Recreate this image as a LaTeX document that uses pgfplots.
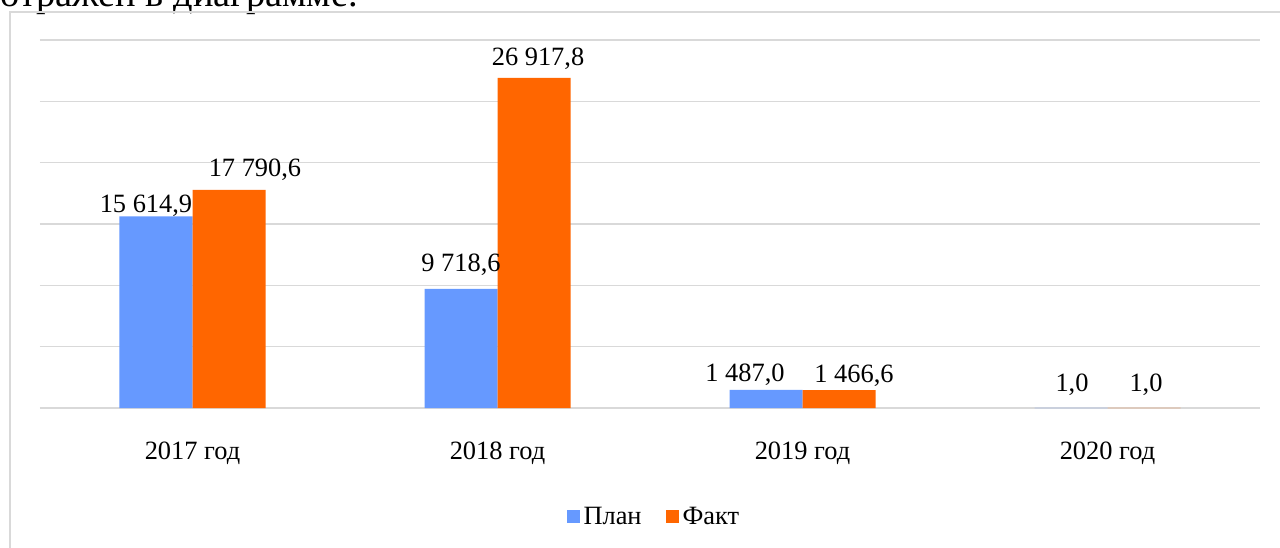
\documentclass[border=0pt]{standalone}
\usepackage{pgfplots}
\pgfplotsset{compat=1.18}
\usepackage{pgfplotstable}
\usepackage{fontspec}
\setmainfont{Liberation Serif}
\definecolor{plan}{RGB}{102,153,255}
\definecolor{fakt}{RGB}{255,102,0}
\definecolor{gridc}{RGB}{217,217,217}
\pgfplotstableread{
x plan dxp dyp fakt dxf dyf
0 15614.9 -5 2 17790.6 13 6.5
1 9718.6 0 8.5 26917.8 2 6
2 1487.0 -10.5 4 1466.6 7.5 4
3 1.0 0.5 8 1.0 1 8
}\data
\begin{document}
\begin{tikzpicture}
\path[use as bounding box, clip] (0,0) rectangle (640pt,273.5pt);
\fill[white] (0,0) rectangle (640pt,273.5pt);
\node[anchor=base west, inner sep=0, font=\fontsize{19.2}{22}\selectfont] at (0pt,270pt) {отражен в диаграмме.};
\draw[gridc, line width=1pt] (5.15pt,-20pt) -- (5.15pt,267.5pt) -- (700pt,267.5pt);
\begin{axis}[
  at={(20pt,69.5pt)}, anchor=south west,
  scale only axis, width=610pt, height=184pt,
  xmin=-0.5, xmax=3.5, ymin=0, ymax=30000,
  ybar=0pt, bar width=36.5pt,
  axis line style={draw=none}, major tick length=0pt,
  ytick={0,5000,...,30000}, yticklabels={}, scaled y ticks=false,
  ymajorgrids, grid style={gridc, line width=0.75pt},
  xtick={0,1,2,3},
  xticklabels={2017 год,2018 год,2019 год,2020 год},
  xticklabel style={anchor=base, yshift=-25.5pt, inner sep=0pt},
  font=\fontsize{13.2}{15}\selectfont,
  ticklabel style={font=\fontsize{13.2}{15}\selectfont},
  /pgf/number format/.cd, fixed, fixed zerofill, precision=1, use comma, 1000 sep={\ }, assume math mode=true,
  /pgfplots/.cd,
  nodes near coords,
  nodes near coords style={font=\fontsize{13.2}{15}\selectfont, anchor=base, inner sep=0pt, text=black},
  legend style={at={(0.504,0)}, anchor=center, yshift=-54.5pt, draw=none, fill=none,
    legend columns=2, font=\fontsize{13.2}{15}\selectfont,
    /tikz/every even column/.append style={column sep=10pt}},
  legend image code/.code={\fill[#1] (0pt,-3pt) rectangle (6.5pt,3.5pt);},
]
\addplot[fill=plan, draw=none,
  visualization depends on={\thisrow{dxp} \as \dx},
  visualization depends on={\thisrow{dyp} \as \dy},
  every node near coord/.append style={xshift=\dx pt, yshift=\dy pt}]
  table[x=x, y=plan] {\data};
\addlegendentry{План}
\addplot[fill=fakt, draw=none,
  visualization depends on={\thisrow{dxf} \as \dx},
  visualization depends on={\thisrow{dyf} \as \dy},
  every node near coord/.append style={xshift=\dx pt, yshift=\dy pt}]
  table[x=x, y=fakt] {\data};
\addlegendentry{Факт}
\end{axis}
\end{tikzpicture}
\end{document}
